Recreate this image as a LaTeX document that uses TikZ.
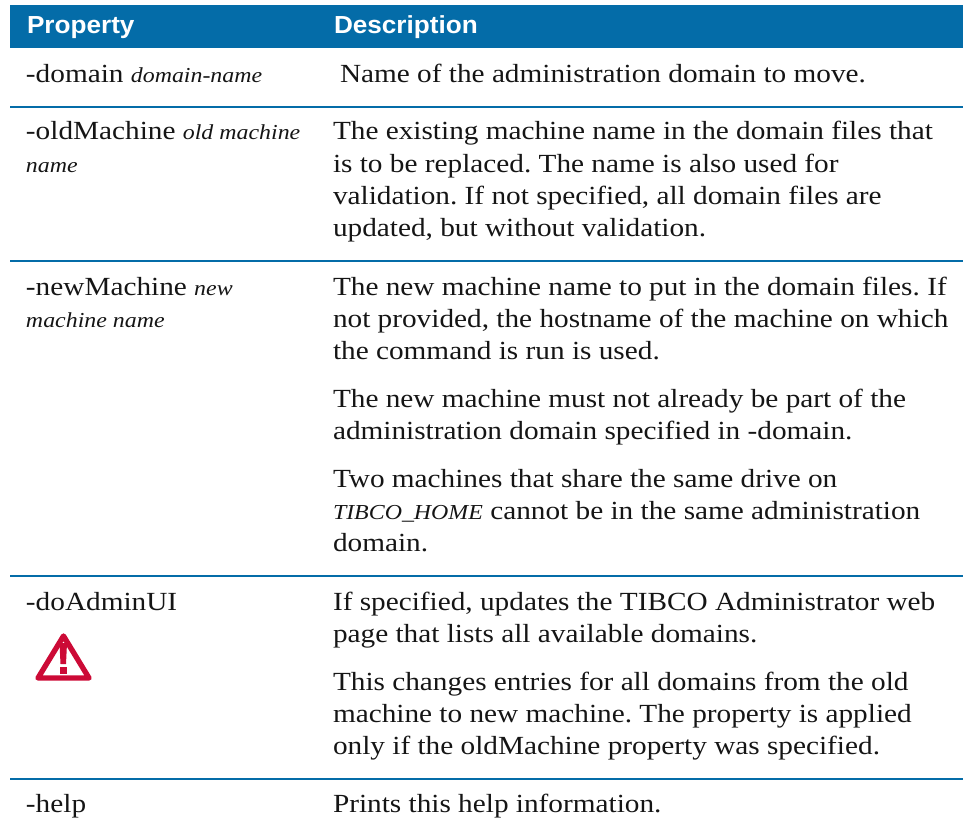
\documentclass[tikz,border=0pt]{standalone}
\usepackage{fontspec}
\setmainfont[FakeStretch=1.12]{Liberation Serif}
\newfontfamily\headfont[FakeStretch=1.06]{Liberation Sans}
\definecolor{tibblue}{HTML}{046CA8}
\definecolor{warnred}{HTML}{CC0A36}
\definecolor{ink}{HTML}{151515}
\frenchspacing
\tikzset{
  x=0.75pt,y=-0.75pt,
  txt/.style={anchor=base west,inner sep=0pt,outer sep=0pt,text=ink,font=\fontsize{19.6pt}{24pt}\selectfont},
  head/.style={anchor=base west,inner sep=0pt,outer sep=0pt,text=white,font=\headfont\bfseries\fontsize{18.5pt}{22pt}\selectfont},
  rowrule/.style={draw=tibblue,line width=1.5pt}
}
\newcommand{\ital}[1]{{\itshape\fontsize{16pt}{20pt}\selectfont #1}}
\begin{document}
\begin{tikzpicture}
\useasboundingbox (0,0) rectangle (963,835);
\fill[tibblue] (10,5) rectangle (963,48);
\node[head] (h1) at (27,33) {Property};
\node[head] (h2) at (334,33) {Description};
\node[txt] (a1) at (26,82) {-domain \ital{domain-name}};
\node[txt] (b1) at (340,82) {Name of the administration domain to move.};
\draw[rowrule] (10,107) -- (963,107);
\node[txt] (a2) at (26,139) {-oldMachine \ital{old machine}};
\node[txt] (a2b) at (26,172) {\ital{name}};
\node[txt] (b2a) at (333,139) {The existing machine name in the domain files that};
\node[txt] (b2b) at (333,172) {is to be replaced. The name is also used for};
\node[txt] (b2c) at (333,204) {validation. If not specified, all domain files are};
\node[txt] (b2d) at (333,236) {updated, but without validation.};
\draw[rowrule] (10,261) -- (963,261);
\node[txt] (a3) at (26,295) {-newMachine \ital{new}};
\node[txt] (a3b) at (26,327) {\ital{machine name}};
\node[txt] (b3a) at (333,295) {The new machine name to put in the domain files. If};
\node[txt] (b3b) at (333,327) {not provided, the hostname of the machine on which};
\node[txt] (b3c) at (333,359) {the command is run is used.};
\node[txt] (b3d) at (333,407) {The new machine must not already be part of the};
\node[txt] (b3e) at (333,439) {administration domain specified in -domain.};
\node[txt] (b3f) at (333,487) {Two machines that share the same drive on};
\node[txt] (b3g) at (333,519) {\ital{TIBCO\_HOME} cannot be in the same administration};
\node[txt] (b3h) at (333,551) {domain.};
\draw[rowrule] (10,576) -- (963,576);
\node[txt] (a4) at (26,610) {-doAdminUI};
\node[txt] (b4a) at (333,610) {If specified, updates the TIBCO Administrator web};
\node[txt] (b4b) at (333,642) {page that lists all available domains.};
\node[txt] (b4c) at (333,690) {This changes entries for all domains from the old};
\node[txt] (b4d) at (333,722) {machine to new machine. The property is applied};
\node[txt] (b4e) at (333,754) {only if the oldMachine property was specified.};
\draw[rowrule] (10,778.5) -- (963,778.5);
\node[txt] (a5) at (26,812) {-help};
\node[txt] (b5) at (333,812) {Prints this help information.};
% warning icon
\draw[warnred,line width=4pt,line join=round,fill=white] (63.5,636) -- (38,678) -- (89,678) -- cycle;
\fill[warnred] (59.5,643) -- (67,643) -- (66,664) -- (60.5,664) -- cycle;
\fill[warnred] (59.5,667) rectangle (67,673.5);
\end{tikzpicture}
\end{document}
